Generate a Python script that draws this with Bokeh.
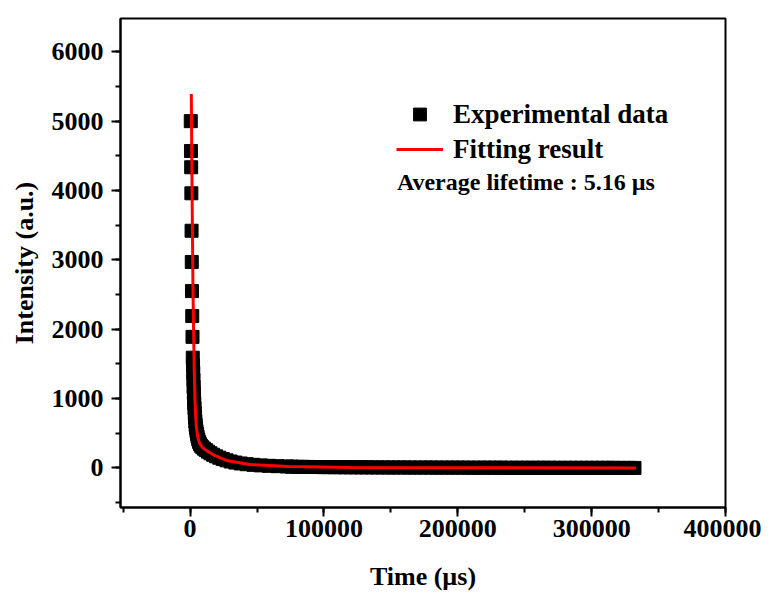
from bokeh.plotting import figure
from bokeh.models import (Range1d, SingleIntervalTicker, NumeralTickFormatter,
                          Legend, LegendItem, Label, ColumnDataSource)
from bokeh.embed import file_html
from bokeh.resources import INLINE

# ---- data ----
# early, well separated experimental points (time in us, intensity in a.u.)
exp_time_early = [500, 650, 800, 950, 1100, 1250, 1400, 1600, 1800, 2000]
exp_int_early = [5000, 4570, 4335, 3960, 3420, 2970, 2550, 2190, 1890, 1590]

# dense decay part of the experimental data
exp_time_decay = [2200, 2350, 2500, 2650, 2800, 2950, 3100, 3300, 3500, 3700,
                  3900, 4150, 4450, 4800, 5200, 5600, 6100, 6700, 7400, 8200,
                  9200, 10400, 11800, 13400, 15200, 17200, 19400, 21800, 24400,
                  27200, 30300, 33800, 37800, 42300, 47300, 52800, 58800, 65300,
                  72300]
exp_int_decay = [1480, 1370, 1270, 1170, 1080, 1000, 930, 860, 790, 730,
                 670, 620, 575, 530, 490, 450, 410, 375, 345, 320,
                 298, 278, 258, 235, 212, 190, 168, 148, 128,
                 110, 93, 78, 65, 54, 45, 37, 31, 26,
                 22]

# long flat tail of the experimental data
exp_time_tail = [76000, 80000, 84000, 88000, 92000, 96000, 100000, 104000, 108000,
                 112000, 116000, 120000, 124000, 128000, 132000, 136000, 140000,
                 144000, 148000, 152000, 156000, 160000, 164000, 168000, 172000,
                 176000, 180000, 184000, 188000, 192000, 196000, 200000, 204000,
                 208000, 212000, 216000, 220000, 224000, 228000, 232000, 236000,
                 240000, 244000, 248000, 252000, 256000, 260000, 264000, 268000,
                 272000, 276000, 280000, 284000, 288000, 292000, 296000, 300000,
                 304000, 308000, 312000, 316000, 320000, 324000, 328000, 332000]
exp_int_tail = [19, 17, 16, 15, 14, 13, 12, 12, 11, 11, 10, 10, 9, 9, 9, 8, 8,
                8, 7, 7, 7, 7, 6, 6, 6, 6, 6, 5, 5, 5, 5, 5, 5, 4, 4, 4, 4, 4,
                4, 4, 3, 3, 3, 3, 3, 3, 3, 3, 3, 2, 2, 2, 2, 2, 2, 2, 2, 2, 2,
                2, 2, 1, 1, 1, 1]

# fitted curve
fit_time = [900, 1300, 1700, 2100, 2600, 3100, 3700, 4600, 5800, 7100, 9500,
            12300, 18300, 27200, 44400, 74000, 120000, 333000]
fit_int = [5390, 4400, 3500, 2700, 1985, 1400, 950, 600, 440, 355, 290,
           250, 180, 108, 50, 22, 6, 0]

note_text = "Average lifetime : 5.16 \u00b5s"
note_pos = (154500, 4120)

FONT = "Liberation Serif"

exp_time = exp_time_early + exp_time_decay + exp_time_tail
exp_int = exp_int_early + exp_int_decay + exp_int_tail

p = figure(frame_width=605, frame_height=489, output_backend="svg",
           toolbar_location=None, min_border_left=120, min_border_top=18,
           min_border_right=36, min_border_bottom=80,
           x_range=Range1d(-52000, 400000), y_range=Range1d(-570, 6480))
p.background_fill_color = "white"
p.border_fill_color = "white"
p.xgrid.visible = False
p.ygrid.visible = False
p.outline_line_color = "black"
p.outline_line_width = 2

src_exp = ColumnDataSource(dict(t=exp_time, i=exp_int))
r_exp = p.scatter("t", "i", source=src_exp, marker="square", size=13,
                  fill_color="black", line_color="black")
src_fit = ColumnDataSource(dict(t=fit_time, i=fit_int))
r_fit = p.line("t", "i", source=src_fit, line_color="#ff0000", line_width=3)

p.xaxis.ticker = SingleIntervalTicker(interval=100000, num_minor_ticks=2)
p.yaxis.ticker = SingleIntervalTicker(interval=1000, num_minor_ticks=2)
p.xaxis.formatter = NumeralTickFormatter(format="0")
p.yaxis.formatter = NumeralTickFormatter(format="0")

for ax in (p.xaxis, p.yaxis):
    ax.axis_line_width = 2
    ax.axis_line_color = "black"
    ax.major_tick_line_width = 2
    ax.minor_tick_line_width = 2
    ax.major_tick_out = 9
    ax.major_tick_in = 0
    ax.minor_tick_out = 5
    ax.minor_tick_in = 0
    ax.major_label_text_font = FONT
    ax.major_label_text_font_style = "bold"
    ax.major_label_text_font_size = "26px"
    ax.major_label_text_color = "black"
    ax.axis_label_text_font = FONT
    ax.axis_label_text_font_style = "bold"
    ax.axis_label_text_font_size = "26px"
    ax.axis_label_text_color = "black"

p.xaxis.major_label_standoff = 3
p.yaxis.major_label_standoff = 8
p.xaxis.axis_label = "Time (\u00b5s)"
p.yaxis.axis_label = "Intensity (a.u.)"
p.xaxis.axis_label_standoff = 22
p.yaxis.axis_label_standoff = 10

legend = Legend(items=[LegendItem(label="Experimental data", renderers=[r_exp]),
                       LegendItem(label="Fitting result", renderers=[r_fit])],
                location=(276, 342))
legend.label_text_font = FONT
legend.label_text_font_style = "bold"
legend.label_text_font_size = "27px"
legend.label_text_color = "black"
legend.glyph_width = 47
legend.glyph_height = 32
legend.label_height = 32
legend.spacing = 3
legend.label_standoff = 10
legend.padding = 0
legend.margin = 0
legend.border_line_alpha = 0
legend.background_fill_alpha = 0
p.add_layout(legend)

note = Label(x=note_pos[0], y=note_pos[1], text=note_text,
             text_font=FONT, text_font_style="bold", text_font_size="24px",
             text_color="black", text_baseline="middle", text_align="left")
p.add_layout(note)

open("out.html", "w").write(file_html(p, INLINE))
